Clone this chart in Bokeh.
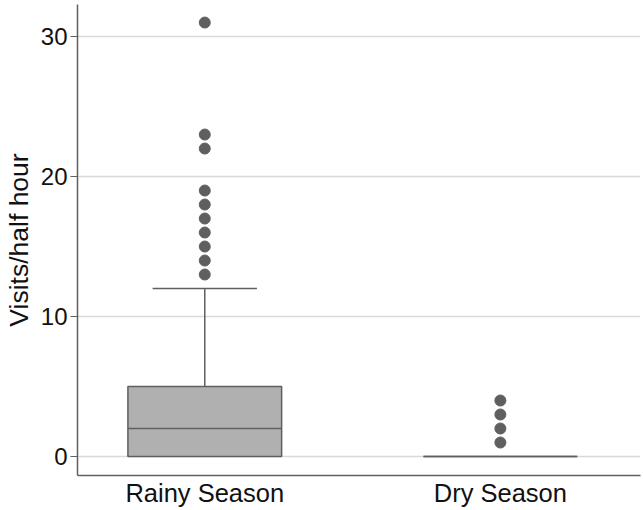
from bokeh.plotting import figure
from bokeh.models import FixedTicker, Range1d
from bokeh.embed import file_html
from bokeh.resources import INLINE

# ---- data ----
categories = ["Rainy Season", "Dry Season"]
positions = [1, 2]
q1 = [0, 0]
median = [2, 0]
q3 = [5, 0]
lower_whisker = [0, 0]
upper_whisker = [12, 0]
outliers_rainy = [13, 14, 15, 16, 17, 18, 19, 22, 23, 31]
outliers_dry = [1, 2, 3, 4]
y_ticks = [0, 10, 20, 30]

FONT = "Liberation Sans"
DARK = "#5f5f5f"
BOX_W = 0.52
CAP_W = 0.353

p = figure(width=643, height=510, output_backend="svg", toolbar_location=None,
           x_range=Range1d(0.5695, 2.474), y_range=Range1d(-1.357, 32.29),
           min_border_left=70, min_border_right=3, min_border_top=4,
           min_border_bottom=35)
p.outline_line_color = None
p.background_fill_color = "white"

# whiskers
p.segment(x0=positions, y0=q3, x1=positions, y1=upper_whisker, line_color=DARK, line_width=1.5)
p.segment(x0=positions, y0=lower_whisker, x1=positions, y1=q1, line_color=DARK, line_width=1.5)
caps_x0 = [x - CAP_W / 2 for x, u, q in zip(positions, upper_whisker, q3) if u > q]
caps_x1 = [x + CAP_W / 2 for x, u, q in zip(positions, upper_whisker, q3) if u > q]
caps_y = [u for u, q in zip(upper_whisker, q3) if u > q]
p.segment(x0=caps_x0, y0=caps_y, x1=caps_x1, y1=caps_y, line_color=DARK, line_width=1.5)

# boxes
p.vbar(x=positions, width=BOX_W, bottom=q1, top=q3, fill_color="#b0b0b0",
       line_color=DARK, line_width=1.5)
# medians
p.segment(x0=[x - BOX_W / 2 for x in positions], y0=median,
          x1=[x + BOX_W / 2 for x in positions], y1=median,
          line_color=DARK, line_width=1.5)

# outliers
p.scatter(x=[positions[0]] * len(outliers_rainy), y=outliers_rainy, size=11,
          fill_color=DARK, line_color=DARK)
p.scatter(x=[positions[1]] * len(outliers_dry), y=outliers_dry, size=11,
          fill_color=DARK, line_color=DARK)

# axes
p.xaxis.ticker = FixedTicker(ticks=positions)
p.xaxis.major_label_overrides = {pos: c for pos, c in zip(positions, categories)}
p.xaxis.major_tick_line_color = None
p.xaxis.major_tick_out = 0
p.xaxis.major_tick_in = 0
p.xaxis.minor_tick_line_color = None
p.xaxis.axis_line_color = DARK
p.xaxis.axis_line_width = 1.5
p.xaxis.major_label_text_font = FONT
p.xaxis.major_label_text_font_size = "25.5px"
p.xaxis.major_label_text_color = "#111111"
p.xaxis.major_label_standoff = 3

p.yaxis.ticker = FixedTicker(ticks=y_ticks)
p.yaxis.minor_tick_line_color = None
p.yaxis.major_tick_in = 0
p.yaxis.major_tick_out = 7
p.yaxis.major_tick_line_color = DARK
p.yaxis.axis_line_color = DARK
p.yaxis.axis_line_width = 1.5
p.yaxis.major_label_text_font = FONT
p.yaxis.major_label_text_font_size = "24px"
p.yaxis.major_label_text_color = "#111111"
p.yaxis.major_label_standoff = 3
p.yaxis.axis_label = "Visits/half hour"
p.yaxis.axis_label_text_font = FONT
p.yaxis.axis_label_text_font_size = "26.5px"
p.yaxis.axis_label_text_font_style = "normal"
p.yaxis.axis_label_text_color = "#111111"
p.yaxis.axis_label_standoff = 4

p.xgrid.grid_line_color = None
p.ygrid.ticker = FixedTicker(ticks=y_ticks)
p.ygrid.grid_line_color = "#d9d9d9"
p.ygrid.grid_line_width = 1.5

open("out.html", "w").write(file_html(p, INLINE))
